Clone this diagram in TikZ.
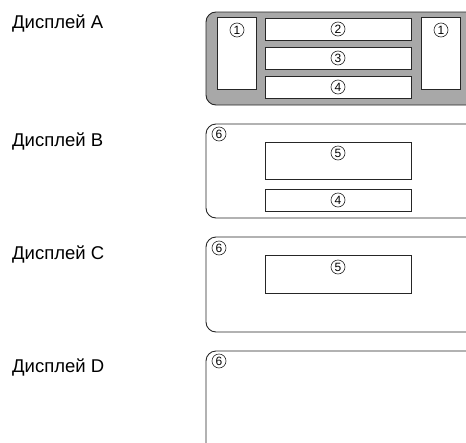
\documentclass[tikz,border=0pt]{standalone}
\usepackage{fontspec}
\setmainfont{Liberation Sans}

\tikzset{
    screen/.style={draw=black!85, line width=0.9pt, rounded corners=10pt},
    panel/.style={draw=black!85, line width=0.9pt, fill=white},
    dlabel/.style={anchor=west, inner sep=0pt, font=\fontsize{18.5}{20}\selectfont},
    num/.style={circle, draw=black!85, line width=0.6pt, inner sep=0pt, minimum size=14pt,
        font=\fontsize{12}{12}\selectfont},
}

\begin{document}
\begin{tikzpicture}[x=1pt, y=-1pt]
        \useasboundingbox (0,0) rectangle (466,442);
        \clip (0,0) rectangle (466,442);

        % Display A
        \node[dlabel] (dA) at (12,23) {Дисплей A};
        \filldraw[screen, fill=black!34] (206,12) rectangle (476,105);
        \filldraw[panel] (217,17) rectangle (256,89);
        \filldraw[panel] (421,17) rectangle (460,89);
        \filldraw[panel] (265,18) rectangle (411,40);
        \filldraw[panel] (265,47) rectangle (411,69);
        \filldraw[panel] (265,76) rectangle (411,98);
        \node[num] (a1l) at (237,30) {1};
        \node[num] (a1r) at (441,30) {1};
        \node[num] (a2) at (338,29) {2};
        \node[num] (a3) at (338,58) {3};
        \node[num] (a4) at (338,87) {4};

        % Display B
        \node[dlabel] (dB) at (12,141) {Дисплей B};
        \draw[screen] (206,124) rectangle (476,218);
        \filldraw[panel] (265,142) rectangle (411,179);
        \filldraw[panel] (265,189) rectangle (411,211);
        \node[num] (b6) at (219,134) {6};
        \node[num] (b5) at (338,153) {5};
        \node[num] (b4) at (338,200) {4};

        % Display C
        \node[dlabel] (dC) at (12,254) {Дисплей C};
        \draw[screen] (206,237) rectangle (476,332);
        \filldraw[panel] (265,255) rectangle (411,293);
        \node[num] (c6) at (219,248) {6};
        \node[num] (c5) at (338,267) {5};

        % Display D
        \node[dlabel] (dD) at (12,367) {Дисплей D};
        \draw[screen] (206,351) rectangle (476,470);
        \node[num] (d6) at (219,361) {6};

    \end{tikzpicture}
\end{document}
